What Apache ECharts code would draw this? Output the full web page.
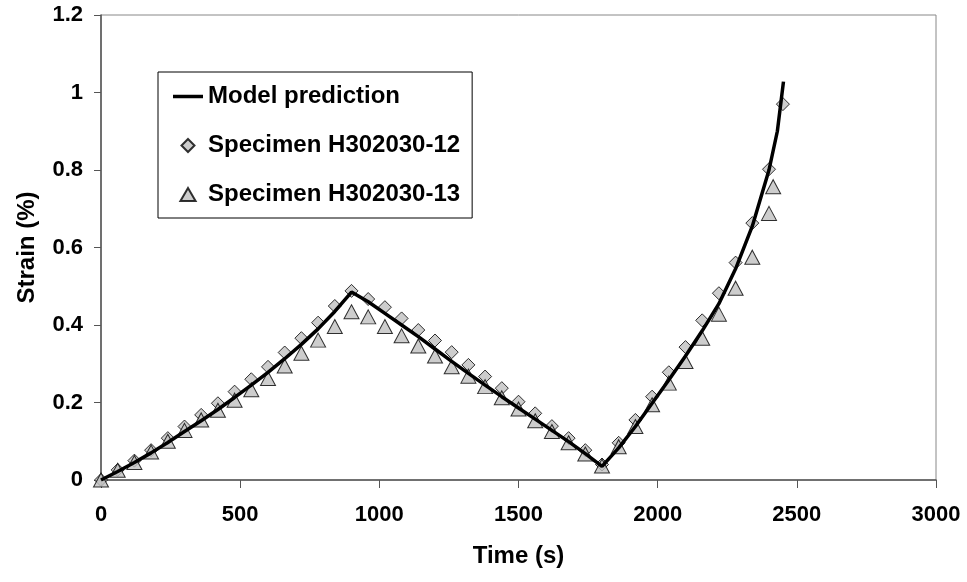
<!DOCTYPE html>
<html>
<head>
<meta charset="utf-8">
<script src="https://cdn.jsdelivr.net/npm/echarts@6/dist/echarts.min.js"></script>
<style>
html,body{margin:0;padding:0;background:#fff;}
#chart{width:967px;height:582px;}
</style>
</head>
<body>
<div id="chart"></div>
<script>
// Model prediction
var modelTime = [0,60,120,180,240,300,360,420,480,540,600,660,720,780,840,900,960,1020,1080,1140,1200,1260,1320,1380,1440,1500,1560,1620,1680,1740,1800,1860,1920,1980,2040,2100,2160,2220,2280,2340,2400,2430,2452];
var modelStrain = [0,0.022,0.045,0.07,0.097,0.125,0.153,0.182,0.213,0.245,0.278,0.313,0.35,0.39,0.435,0.485,0.46,0.43,0.4,0.37,0.338,0.306,0.275,0.245,0.215,0.186,0.157,0.128,0.099,0.068,0.035,0.083,0.138,0.198,0.258,0.32,0.385,0.455,0.545,0.655,0.8,0.9,1.028];
// Specimen H302030-12 (diamonds)
var time12 = [0,60,120,180,240,300,360,420,480,540,600,660,720,780,840,900,960,1020,1080,1140,1200,1260,1320,1380,1440,1500,1560,1620,1680,1740,1800,1860,1920,1980,2040,2100,2160,2220,2280,2340,2400,2450];
var strain12 = [0,0.026,0.05,0.077,0.108,0.138,0.168,0.198,0.228,0.26,0.292,0.329,0.366,0.406,0.449,0.488,0.467,0.446,0.417,0.387,0.36,0.33,0.297,0.267,0.237,0.202,0.172,0.139,0.108,0.077,0.04,0.096,0.155,0.215,0.278,0.343,0.412,0.482,0.561,0.663,0.802,0.97];
// Specimen H302030-13 (triangles)
var time13 = [0,60,120,180,240,300,360,420,480,540,600,660,720,780,840,900,960,1020,1080,1140,1200,1260,1320,1380,1440,1500,1560,1620,1680,1740,1800,1860,1920,1980,2040,2100,2160,2220,2280,2340,2400,2415];
var strain13 = [0,0.025,0.045,0.072,0.1,0.128,0.155,0.18,0.206,0.233,0.262,0.294,0.327,0.361,0.396,0.434,0.421,0.396,0.372,0.346,0.32,0.292,0.268,0.241,0.212,0.183,0.153,0.125,0.096,0.067,0.036,0.086,0.138,0.194,0.25,0.306,0.366,0.428,0.495,0.575,0.688,0.757];

var seriesNames = ['Model prediction','Specimen H302030-12','Specimen H302030-13'];
var xTitle = 'Time (s)';
var yTitle = 'Strain (%)';

function pairs(a,b){ return a.map(function(v,i){ return [v,b[i]]; }); }

var FONT = '"Liberation Sans", Arial, sans-serif';
var chart = echarts.init(document.getElementById('chart'), null, {renderer:'canvas'});
chart.setOption({
  animation:false,
  backgroundColor:'#ffffff',
  grid:{left:101, top:15, right:31, bottom:102, show:true, borderColor:'#888888', borderWidth:1, backgroundColor:'transparent'},
  xAxis:{
    type:'value', min:0, max:3000, interval:500,
    name:xTitle, nameLocation:'middle', nameGap:64,
    nameTextStyle:{fontFamily:FONT, fontWeight:'bold', fontSize:24, color:'#000'},
    axisLine:{show:true, onZero:false, lineStyle:{color:'#555555', width:1.5}},
    axisTick:{show:true, inside:false, length:8, lineStyle:{color:'#555555', width:1}},
    axisLabel:{fontFamily:FONT, fontWeight:'bold', fontSize:22, color:'#000', margin:24,
      formatter:function(v){ return String(v); }},
    splitLine:{show:false}
  },
  yAxis:{
    type:'value', min:0, max:1.2, interval:0.2,
    name:yTitle, nameLocation:'middle', nameGap:62, nameRotate:90,
    nameTextStyle:{fontFamily:FONT, fontWeight:'bold', fontSize:24, color:'#000'},
    axisLine:{show:true, onZero:false, lineStyle:{color:'#555555', width:1.5}},
    axisTick:{show:true, inside:false, length:7, lineStyle:{color:'#555555', width:1}},
    axisLabel:{fontFamily:FONT, fontWeight:'bold', fontSize:22, color:'#000', margin:18,
      formatter:function(v){ return String(Math.round(v*10)/10); }},
    splitLine:{show:false}
  },
  legend:{
    orient:'vertical', left:158, top:72,
    data:[
      {name:seriesNames[0], icon:'path://M0,0L30,0L30,3.5L0,3.5Z'},
      {name:seriesNames[1], icon:'path://M6,0L12,6L6,12L0,6Z'},
      {name:seriesNames[2], icon:'path://M7,0L14,12L0,12Z'}
    ],
    symbolKeepAspect:true,
    itemWidth:30, itemHeight:13, itemGap:22,
    padding:[11,12,10,15],
    borderColor:'#000', borderWidth:1, backgroundColor:'#fff',
    textStyle:{fontFamily:FONT, fontWeight:'bold', fontSize:24, color:'#000', lineHeight:27},
    selectedMode:false
  },
  series:[
    {
      name:seriesNames[1], type:'scatter', data:pairs(time12,strain12),
      symbol:'diamond', symbolSize:13, z:3,
      itemStyle:{color:'#c0c0c0', borderColor:'#000', borderWidth:1}
    },
    {
      name:seriesNames[2], type:'scatter', data:pairs(time13,strain13),
      symbol:'triangle', symbolSize:[15,14], z:4,
      itemStyle:{color:'#c0c0c0', borderColor:'#000', borderWidth:1}
    },
    {
      name:seriesNames[0], type:'line', data:pairs(modelTime,modelStrain),
      symbol:'none', showSymbol:false, smooth:false, z:5,
      lineStyle:{color:'#000', width:3.5},
      itemStyle:{color:'#000'}
    }
  ]
});
</script>
</body>
</html>
